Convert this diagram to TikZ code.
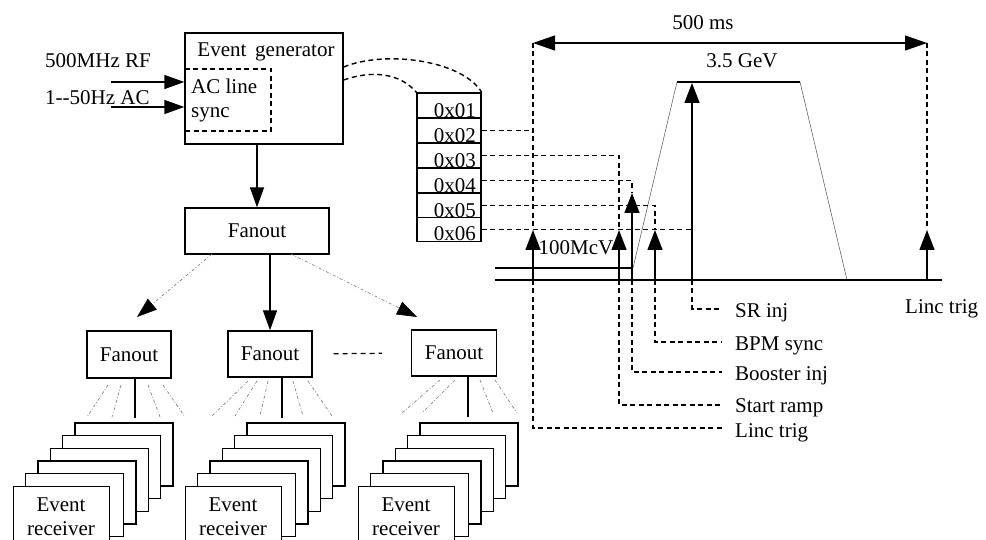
\documentclass[tikz,border=0pt]{standalone}
\usepackage{fontspec}
\setmainfont{Liberation Serif}
\usetikzlibrary{arrows.meta}
\begin{document}
\begin{tikzpicture}[x=1pt,y=-1pt,
  lw/.style={line width=1.4pt},
  box/.style={draw, line width=1.4pt, rectangle, inner sep=0pt, fill=white},
  dsh/.style={line width=1.4pt, dash pattern=on 5pt off 3.5pt},
  tip/.style={-{Triangle[length=20pt,width=14pt]}},
  ray/.style={black!55, line width=0.6pt, dash pattern=on 3pt off 2pt on 0.8pt off 2pt},
  ramp/.style={black!60, line width=0.6pt},
  txt/.style={font=\fontsize{21}{23}\selectfont, inner sep=0pt},
]
\useasboundingbox (0,0) rectangle (986,540);
\clip (0,0) rectangle (986,540);

% ---------- Event generator ----------
\node[box, minimum width=158pt, minimum height=111pt] (EG) at (264,88.5) {};
\node[txt, anchor=base] (EGt) at (266,57) {Event\, generator};
\node[draw, dsh, rectangle, minimum width=86pt, minimum height=62pt, inner sep=0pt] (AC) at (228,100) {};
\node[txt, anchor=base west] (ACt1) at (191,94) {AC line};
\node[txt, anchor=base west] (ACt2) at (191,118) {sync};

\node[txt, anchor=base west] (rf) at (45,68) {500MHz RF};
\node[txt, anchor=base west] (acin) at (45,105) {1-{}-50Hz AC};
\coordinate (in1) at (111,82);
\coordinate (in2) at (111,107);
\draw[lw,tip] (in1) -- (in1 -| EG.west);
\draw[lw,tip] (in2) -- (in2 -| EG.west);

% ---------- Top fanout ----------
\node[box, txt, minimum width=144pt, minimum height=46pt] (F0) at (257,231) {Fanout};
\draw[lw,tip] (EG.south -| F0.north) -- (F0.north);

% ---------- Event table ----------
\foreach \i/\yc/\h/\yb in {1/105.5/25/117.5, 2/130.5/25/142.5, 3/155.5/25/167.5, 4/180.5/25/192.5, 5/205.5/25/217.5, 6/229.5/24/241}{
  \node[box, minimum width=64pt, minimum height=\h pt] (R\i) at (449,\yc) {};
  \node[txt, anchor=base east] (Rt\i) at (476,\yb) {0x0\i};
}
\draw[dsh] ([yshift=21.5pt]EG.east) .. controls (385,50) and (462,60) .. (R1.north east);
\draw[dsh] ([yshift=8.5pt]EG.east) .. controls (372,70) and (400,73) .. (R1.north west);

% ---------- Timing diagram ----------
\coordinate (bs0) at (495,280);
\coordinate (bs1) at (942,280);
\coordinate (lv0) at (495,268);
\coordinate (lv1) at (633,268);
\coordinate (top0) at (677,82);
\coordinate (top1) at (800,82);
\coordinate (rmp) at (847,280);
\draw[ramp] (lv1) -- (top0);
\draw[ramp] (top1) -- (rmp);
\draw[line width=2.2pt] (top0) -- (top1);
\draw[lw] (bs0) -- (bs1);
\draw[lw] (lv0) -- (lv1);
\draw[line width=1.8pt] (rmp) -- (bs1);

\node[txt, anchor=base] (GeV) at (742,68) {3.5 GeV};
\node[txt, anchor=base] (MeV) at (576,255) {100McV};

% period arrow
\coordinate (p0) at (533,43);
\coordinate (p1) at (927,43);
\draw[line width=1.2pt, {Triangle[length=22pt,width=15pt]}-{Triangle[length=22pt,width=15pt]}] (p0) -- (p1);
\node[txt, anchor=base] (ms) at (703,30) {500 ms};

% arrow feet and tips
\coordinate (ltb) at (533,280);  \coordinate (ltt) at (533,230);
\coordinate (srb) at (619,280);  \coordinate (srt) at (619,230);
\coordinate (bib) at (632,280);  \coordinate (bit) at (632,193);
\coordinate (bpb) at (655,280);  \coordinate (bpt) at (655,230);
\coordinate (sib) at (692,280);  \coordinate (sit) at (692,83);
\coordinate (rtb) at (927,280);  \coordinate (rtt) at (927,230);

\draw[dsh] (p0) -- (ltt);
\draw[dsh] (p1) -- (rtt);
\draw[dsh] (R2.east) -- (R2.east -| ltt);
\draw[dsh] (R3.east) -| (srt);
\draw[dsh] (R4.east) -| (bit);
\draw[dsh] (R5.east) -| (bpt);
\draw[dsh] (R6.east) -- (R6.east -| sit);

\foreach \b/\t in {ltb/ltt, srb/srt, bib/bit, bpb/bpt, sib/sit, rtb/rtt}{
  \draw[lw,-{Triangle[length=20pt,width=15pt]}] (\b) -- (\t);
}

% labels below
\coordinate (dSR) at (722,309);
\coordinate (dBP) at (722,342);
\coordinate (dBI) at (722,372);
\coordinate (dST) at (722,405);
\coordinate (dLT) at (722,428);
\draw[dsh] (sib) |- (dSR);
\draw[dsh] (bpb) |- (dBP);
\draw[dsh] (bib) |- (dBI);
\draw[dsh] (srb) |- (dST);
\draw[dsh] (ltb) |- (dLT);
\node[txt, anchor=base west] (lSR) at (735,318) {SR inj};
\node[txt, anchor=base west] (lBP) at (735,350) {BPM sync};
\node[txt, anchor=base west] (lBI) at (735,380) {Booster inj};
\node[txt, anchor=base west] (lST) at (735,412) {Start ramp};
\node[txt, anchor=base west] (lLT) at (735,437) {Linc trig};
\node[txt, anchor=base west] (lLT2) at (905,313) {Linc trig};

% ---------- Second level fanouts ----------
\node[box, txt, minimum width=84pt, minimum height=47pt] (FA) at (129,354.5) {Fanout};
\node[box, txt, minimum width=84pt, minimum height=46pt] (FB) at (270,354) {Fanout};
\node[box, txt, minimum width=85pt, minimum height=46pt] (FC) at (454,353) {Fanout};

\draw[lw,tip] (F0.south -| FB.north) -- (FB.north);
\coordinate (aL0) at (212,254); \coordinate (aL1) at (137,317);
\coordinate (aR0) at (291,254); \coordinate (aR1) at (417,317);
\draw[ray,-{Triangle[length=20pt,width=14pt,color=black]}] (aL0) -- (aL1);
\draw[ray,-{Triangle[length=20pt,width=14pt,color=black]}] (aR0) -- (aR1);
\draw[line width=1.2pt, dash pattern=on 5pt off 4pt, shorten <=21pt, shorten >=29pt] (FB.east) -- (FC.west);

% rays to receivers
\foreach \a/\b in {108/87, 121/112, 148/160, 163/185}{
  \draw[ray] (\a,385) -- (\b,417);
}
\foreach \a/\b in {248/212, 257/235, 268/260, 293/303, 308/332}{
  \draw[ray] (\a,381) -- (\b,416);
}
\foreach \a/\b in {440/402, 455/422, 480/493, 495/517}{
  \draw[ray] (\a,380) -- (\b,413);
}
\coordinate (sA) at (135,418);
\coordinate (sB) at (282,418);
\coordinate (sC) at (468,417);
\draw[lw] (FA.south -| sA) -- (sA);
\draw[lw] (FB.south -| sB) -- (sB);
\draw[lw] (FC.south -| sC) -- (sC);

% ---------- Event receiver stacks ----------
\foreach \g/\gx in {A/0, B/172, C/345}{
  \foreach \i in {0,...,4}{
    \draw[box] ({75+\gx-12.4*\i},{423+12.6*\i}) rectangle +(98,63);
  }
  \node[box, minimum width=96pt, minimum height=64pt, anchor=north west] (ER\g) at ({13+\gx},486) {};
  \node[txt, anchor=base] (ERa\g) at ({61+\gx},511) {Event};
  \node[txt, anchor=base] (ERb\g) at ({61+\gx},535) {receiver};
}
\end{tikzpicture}
\end{document}
